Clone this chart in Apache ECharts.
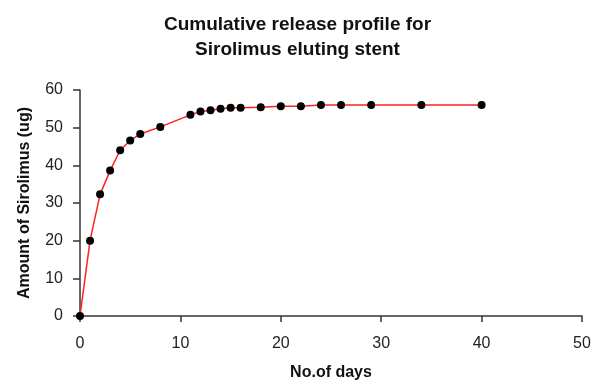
<!DOCTYPE html>
<html>
<head>
<meta charset="utf-8">
<script src="https://cdn.jsdelivr.net/npm/echarts@6/dist/echarts.min.js"></script>
<style>
  html, body { margin: 0; padding: 0; background: #fff; }
  #chart { width: 595px; height: 382px; }
</style>
</head>
<body>
<div id="chart"></div>
<script>
// days and cumulative amount released (ug)
const days = [0, 1, 2, 3, 4, 5, 6, 8, 11, 12, 13, 14, 15, 16, 18, 20, 22, 24, 26, 29, 34, 40];
const amount = [0, 20, 32.3, 38.6, 44, 46.6, 48.3, 50.2, 53.4, 54.3, 54.6, 55.0, 55.3, 55.3, 55.4, 55.7, 55.7, 56, 56, 56, 56, 56];
const xTicks = [0, 10, 20, 30, 40, 50];
const yTicks = [0, 10, 20, 30, 40, 50, 60];

const chart = echarts.init(document.getElementById('chart'));
const font = 'Liberation Sans, Arial, sans-serif';

chart.setOption({
  animation: false,
  title: {
    text: 'Cumulative release profile for\nSirolimus eluting stent',
    left: 'center',
    top: 7,
    textStyle: { fontFamily: font, fontSize: 19, fontWeight: 'bold', color: '#111', lineHeight: 25 }
  },
  grid: { left: 80, right: 13, top: 90, bottom: 66, outerBoundsMode: 'none' },
  xAxis: {
    type: 'value',
    min: xTicks[0],
    max: xTicks[xTicks.length - 1],
    interval: 10,
    name: 'No.of days',
    nameLocation: 'middle',
    nameGap: 49,
    nameTextStyle: { fontFamily: font, fontSize: 16, fontWeight: 'bold', color: '#111' },
    axisLine: { lineStyle: { color: '#333', width: 1.5 } },
    axisTick: { lineStyle: { color: '#333', width: 1.5 }, length: 6 },
    axisLabel: { fontFamily: font, fontSize: 16, color: '#222', margin: 20 },
    splitLine: { show: false }
  },
  yAxis: {
    type: 'value',
    min: yTicks[0],
    max: yTicks[yTicks.length - 1],
    interval: 10,
    name: 'Amount of Sirolimus (ug)',
    nameLocation: 'middle',
    nameGap: 47,
    nameTextStyle: { fontFamily: font, fontSize: 16, fontWeight: 'bold', color: '#111' },
    axisLine: { show: true, lineStyle: { color: '#333', width: 1.5 } },
    axisTick: { show: true, lineStyle: { color: '#333', width: 1.5 }, length: 7 },
    axisLabel: { fontFamily: font, fontSize: 16, color: '#222', margin: 17 },
    splitLine: { show: false }
  },
  series: [{
    type: 'line',
    data: days.map((d, i) => [d, amount[i]]),
    symbol: 'circle',
    symbolSize: 8,
    itemStyle: { color: '#000' },
    lineStyle: { color: '#ff2020', width: 1.5 }
  }]
});
</script>
</body>
</html>
